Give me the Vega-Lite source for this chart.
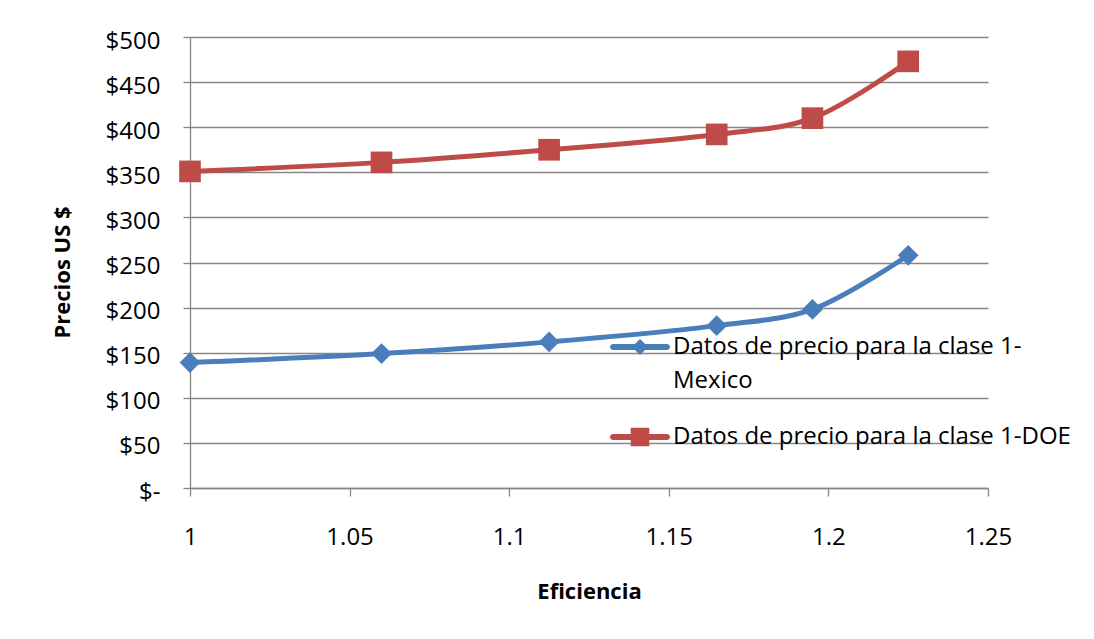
{
  "$schema": "https://vega.github.io/schema/vega-lite/v6.json",
  "width": 798,
  "height": 451,
  "autosize": {"type": "none"},
  "padding": {"left": 190, "top": 37, "right": 106, "bottom": 151},
  "background": "white",
  "config": {
    "view": {"stroke": null},
    "font": "Open Sans",
    "style": {"guide-label": {"lineHeight": 34}},
    "axis": {
      "domainColor": "#868686",
      "domainWidth": 1.3,
      "tickColor": "#868686",
      "tickWidth": 1.3,
      "gridColor": "#868686",
      "gridWidth": 1.3,
      "gridOpacity": 1,
      "labelColor": "#000000",
      "labelFont": "Open Sans",
      "labelFontSize": 24,
      "titleColor": "#000000",
      "titleFont": "Open Sans",
      "titleFontWeight": "bold",
      "titleFontSize": 22
    }
  },
  "data": {
    "values": [
      {"eficiencia": 1.0, "precio": 139, "serie": "Datos de precio para la clase 1-Mexico"},
      {"eficiencia": 1.06, "precio": 149, "serie": "Datos de precio para la clase 1-Mexico"},
      {"eficiencia": 1.1125, "precio": 162, "serie": "Datos de precio para la clase 1-Mexico"},
      {"eficiencia": 1.165, "precio": 180, "serie": "Datos de precio para la clase 1-Mexico"},
      {"eficiencia": 1.195, "precio": 198, "serie": "Datos de precio para la clase 1-Mexico"},
      {"eficiencia": 1.225, "precio": 258, "serie": "Datos de precio para la clase 1-Mexico"},
      {"eficiencia": 1.0, "precio": 351, "serie": "Datos de precio para la clase 1-DOE"},
      {"eficiencia": 1.06, "precio": 361, "serie": "Datos de precio para la clase 1-DOE"},
      {"eficiencia": 1.1125, "precio": 375, "serie": "Datos de precio para la clase 1-DOE"},
      {"eficiencia": 1.165, "precio": 392, "serie": "Datos de precio para la clase 1-DOE"},
      {"eficiencia": 1.195, "precio": 410, "serie": "Datos de precio para la clase 1-DOE"},
      {"eficiencia": 1.225, "precio": 473, "serie": "Datos de precio para la clase 1-DOE"}
    ]
  },
  "encoding": {
    "x": {
      "field": "eficiencia",
      "type": "quantitative",
      "scale": {"domain": [1, 1.25], "nice": false, "zero": false},
      "axis": {
        "title": "Eficiencia",
        "values": [1, 1.05, 1.1, 1.15, 1.2, 1.25],
        "format": "~g",
        "grid": false,
        "labelFlush": false,
        "tickSize": 8,
        "labelPadding": 29,
        "titlePadding": 32
      }
    },
    "y": {
      "field": "precio",
      "type": "quantitative",
      "scale": {"domain": [0, 500], "nice": false},
      "axis": {
        "title": "Precios US $",
        "titleY": 235,
        "values": [0, 50, 100, 150, 200, 250, 300, 350, 400, 450, 500],
        "labelExpr": "datum.value == 0 ? '$-' : '$' + datum.value",
        "labelFlush": false,
        "labelOffset": 4,
        "grid": true,
        "tickSize": 7,
        "labelPadding": 23,
        "titlePadding": 31
      }
    },
    "color": {
      "field": "serie",
      "type": "nominal",
      "scale": {
        "domain": ["Datos de precio para la clase 1-Mexico", "Datos de precio para la clase 1-DOE"],
        "range": ["#4A7EBB", "#BE4B48"]
      },
      "legend": {
        "title": null,
        "orient": "none",
        "legendX": 420,
        "legendY": 280,
        "padding": 0,
        "symbolSize": 3600,
        "symbolStrokeWidth": 0,
        "symbolOpacity": 1,
        "symbolType": {"expr": "datum.value == 'Datos de precio para la clase 1-Mexico' ? 'M-0.9,-0.1L-0.17,-0.1L0,-0.27L0.17,-0.1L0.9,-0.1A0.1,0.1,0,0,1,0.9,0.1L0.17,0.1L0,0.27L-0.17,0.1L-0.9,0.1A0.1,0.1,0,0,1,-0.9,-0.1Z' : 'M-0.9,-0.1L-0.31,-0.1L-0.31,-0.31L0.31,-0.31L0.31,-0.1L0.9,-0.1A0.1,0.1,0,0,1,0.9,0.1L0.31,0.1L0.31,0.31L-0.31,0.31L-0.31,0.1L-0.9,0.1A0.1,0.1,0,0,1,-0.9,-0.1Z'"},
        "labelFont": "Open Sans",
        "labelFontSize": 24,
        "labelColor": "#000000",
        "labelLimit": 0,
        "labelOffset": 3,
        "labelBaseline": "middle",
        "rowPadding": 14,
        "labelExpr": "datum.label == 'Datos de precio para la clase 1-Mexico' ? ['Datos de precio para la clase 1-', 'Mexico'] : datum.label"
      }
    }
  },
  "layer": [
    {
      "mark": {"type": "line", "interpolate": "catmull-rom", "strokeWidth": 5}
    },
    {
      "transform": [{"filter": "datum.serie == 'Datos de precio para la clase 1-Mexico'"}],
      "mark": {"type": "point", "shape": "diamond", "filled": true, "opacity": 1, "size": 430}
    },
    {
      "transform": [{"filter": "datum.serie == 'Datos de precio para la clase 1-DOE'"}],
      "mark": {"type": "point", "shape": "square", "filled": true, "opacity": 1, "size": 470}
    }
  ]
}
